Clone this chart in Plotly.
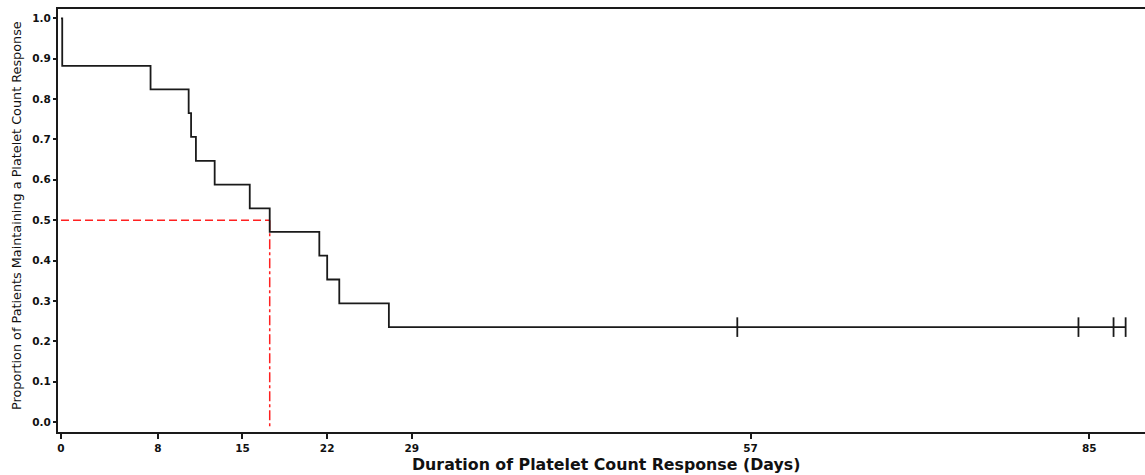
import plotly.graph_objects as go

# Kaplan-Meier step curve (days, proportion)
step_times = [0, 0.1, 7.4, 10.55, 10.75, 11.15, 12.7, 15.6, 17.25, 21.35, 22.0, 23.0, 27.1, 88.0]
step_surv = [1.0, 0.882, 0.824, 0.765, 0.706, 0.647, 0.588, 0.529, 0.471, 0.412, 0.353, 0.294, 0.235, 0.235]

# censored observations
censor_times = [55.9, 84.1, 87.0, 88.0]
censor_surv = [0.235, 0.235, 0.235, 0.235]

# median
median_time = 17.25
median_level = 0.5

x_ticks = [0, 8, 15, 22, 29, 57, 85]
y_ticks = [0.0, 0.1, 0.2, 0.3, 0.4, 0.5, 0.6, 0.7, 0.8, 0.9, 1.0]

fig = go.Figure()

fig.add_trace(go.Scatter(
    x=[0, median_time], y=[median_level, median_level], mode="lines",
    line=dict(color="#ff2020", width=1.5, dash="8px,4px"), hoverinfo="skip"))
fig.add_trace(go.Scatter(
    x=[median_time, median_time], y=[median_level, -0.012], mode="lines",
    line=dict(color="#ff2020", width=1.5, dash="10px,3px,3px,3px"), hoverinfo="skip"))

fig.add_trace(go.Scatter(
    x=step_times, y=step_surv, mode="lines", line_shape="hv",
    line=dict(color="#1a1a1a", width=1.8)))
fig.add_trace(go.Scatter(
    x=censor_times, y=censor_surv, mode="markers",
    marker=dict(symbol="line-ns", size=14, line=dict(color="#1a1a1a", width=1.8))))

tick_font = dict(family="DejaVu Sans, sans-serif", size=10.5, color="#111", weight="bold")

PLOT_L, PLOT_R, PLOT_T, PLOT_B = 58, 1145, 9, 432
PW, PH = PLOT_R - PLOT_L, PLOT_B - PLOT_T

fig.update_layout(
    width=1145, height=475,
    margin=dict(l=PLOT_L, r=1145 - PLOT_R, t=PLOT_T, b=475 - PLOT_B),
    paper_bgcolor="white", plot_bgcolor="white",
    showlegend=False,
    xaxis=dict(
        range=[-0.25, 89.6], tickvals=x_ticks, ticktext=[str(v) for v in x_ticks],
        showgrid=False, zeroline=False, showline=True, linecolor="#1a1a1a", linewidth=2,
        mirror=True, ticks="outside", ticklen=5, tickwidth=1.5, tickcolor="#1a1a1a",
        tickfont=tick_font),
    yaxis=dict(
        range=[-0.0248, 1.023], tickvals=y_ticks, ticktext=[f"{v:.1f}" for v in y_ticks],
        showgrid=False, zeroline=False, showline=True, linecolor="#1a1a1a", linewidth=2,
        mirror=False, ticks="outside", ticklen=3, tickwidth=1.5, tickcolor="#1a1a1a",
        tickfont=tick_font),
    annotations=[
        dict(text="Duration of Platelet Count Response (Days)", xref="paper", yref="paper",
             x=(606 - PLOT_L) / PW, y=(PLOT_B - 464) / PH,
             showarrow=False, xanchor="center", yanchor="middle",
             font=dict(family="DejaVu Sans, sans-serif", size=15.8, color="#111", weight="bold")),
        dict(text="Proportion of Patients Maintaining a Platelet Count Response",
             xref="paper", yref="paper", x=(16 - PLOT_L) / PW, y=(PLOT_B - 216) / PH,
             textangle=-90, showarrow=False, xanchor="center", yanchor="middle",
             font=dict(family="DejaVu Sans, sans-serif", size=12.8, color="#111")),
    ],
)

fig.write_html("out.html")
